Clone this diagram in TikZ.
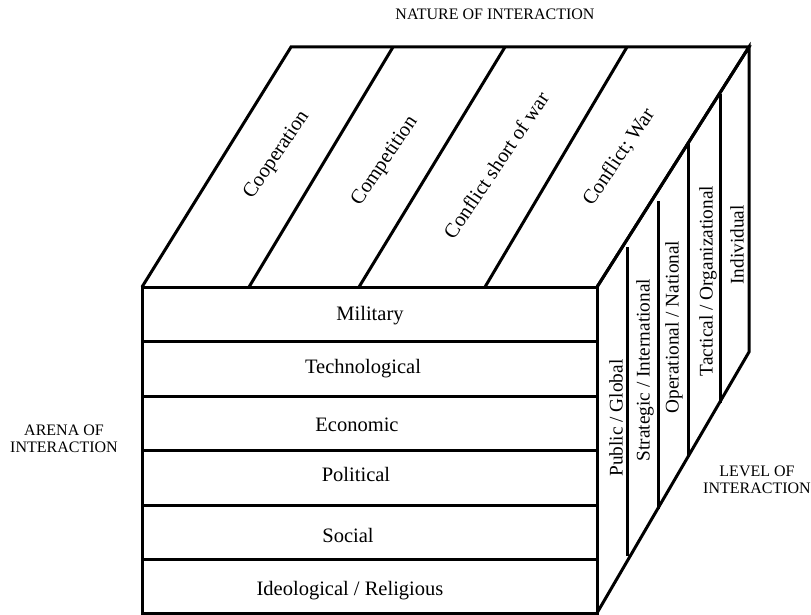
\documentclass[tikz,border=0pt]{standalone}
\usepackage{fontspec}
\setmainfont{Liberation Serif}
\begin{document}
\begin{tikzpicture}[x=1pt,y=-1pt,
  edge/.style={line width=3pt, line join=miter},
  rowtext/.style={font=\fontsize{20.5}{24}\selectfont, inner sep=0pt, anchor=base},
  toptext/.style={font=\fontsize{20.5}{24}\selectfont, inner sep=0pt, rotate=56},
  sidetext/.style={font=\fontsize{19.3}{23}\selectfont, inner sep=0pt, rotate=90},
  axislabel/.style={font=\fontsize{16}{17}\selectfont, align=center, inner sep=0pt}]
\useasboundingbox (0,0) rectangle (811,615);
\fill[white] (0,0) rectangle (811,615);
% corners
\coordinate (FTL) at (142,287);
\coordinate (FTR) at (597,287);
\coordinate (FBL) at (142,613);
\coordinate (FBR) at (597,613);
\coordinate (BTL) at (291,47);
\coordinate (BTR) at (749,47);
\coordinate (BBR) at (749,352);
% top face
\draw[edge] (FTL) -- (BTL) -- (BTR) -- (FTR);
\foreach \f/\b in {249/393, 359/505, 485/627}
  \draw[edge] (\f,287) -- (\b,47);
% right face
\draw[edge] (FTR) -- (BTR) -- (BBR) -- (FBR);
\foreach \x/\t/\bb in {627/247/556, 658/201/509, 688/144/457, 720/94/403}
  \draw[edge] (\x,\t) -- (\x,\bb);
% front face
\draw[edge] (FTL) rectangle (FBR);
\foreach \y in {341,396,450,505,559}
  \draw[edge] (142,\y) -- (597,\y);
% front texts
\node[rowtext] (mil) at (370,320) {Military};
\node[rowtext] (tec) at (363,373) {Technological};
\node[rowtext] (eco) at (357,431) {Economic};
\node[rowtext] (pol) at (356,481) {Political};
\node[rowtext] (soc) at (348,542) {Social};
\node[rowtext] (ide) at (350,595) {Ideological / Religious};
% top texts
\node[toptext] (coo) at (277,155) {Cooperation};
\node[toptext] (com) at (385,161) {Competition};
\node[toptext] (csw) at (496,165) {Conflict short of war};
\node[toptext] (cwa) at (619,157) {Conflict; War};
% side texts
\node[sidetext] (pub) at (616,418) {Public / Global};
\node[sidetext] (str) at (645,370) {Strategic / International};
\node[sidetext] (ope) at (674,327) {Operational / National};
\node[sidetext] (tac) at (708,281) {Tactical / Organizational};
\node[sidetext] (ind) at (737,245) {Individual};
% axis labels
\node[axislabel] (nat) at (495,14) {NATURE OF INTERACTION};
\node[axislabel] (are) at (64,439) {ARENA OF\\INTERACTION};
\node[axislabel] (lev) at (757,480) {LEVEL OF\\INTERACTION};
\end{tikzpicture}
\end{document}
